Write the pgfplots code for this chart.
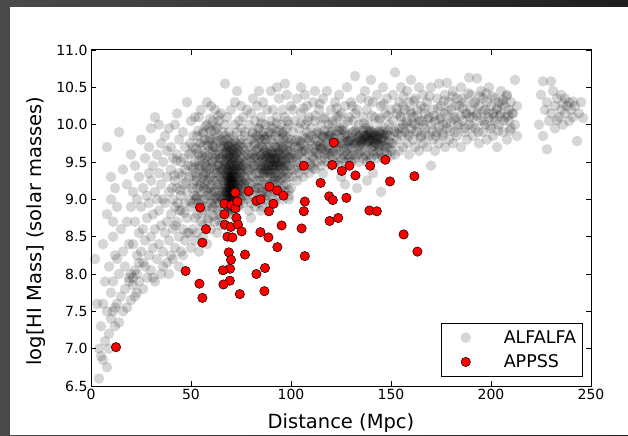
\documentclass[border=0pt]{standalone}
\usepackage{fontspec}
\setmainfont{DejaVu Sans}
\usepackage{pgfplots}
\pgfplotsset{compat=1.18}
\definecolor{frameL}{RGB}{74,74,74}
\definecolor{frameR}{RGB}{30,30,30}
\definecolor{appss}{RGB}{255,0,0}

\begin{document}
\begin{tikzpicture}
% slide frame behind the figure
\shade[left color=frameL, right color=frameR] (0pt,0pt) rectangle (628pt,435pt);
\fill[white] (10pt,0pt) rectangle (628pt,428pt);
\begin{axis}[
  at={(91pt,49pt)}, anchor=south west,
  scale only axis, width=500pt, height=336pt,
  xmin=0, xmax=250, ymin=6.5, ymax=11,
  xtick={0,50,...,250}, ytick={6.5,7.0,...,11.0},
  /pgf/number format/assume math mode=true,
  yticklabel style={/pgf/number format/.cd, fixed, fixed zerofill, precision=1},
  tick label style={font=\fontsize{14}{16}\selectfont},
  tick align=inside, xtick pos=both, ytick pos=both,
  major tick length=5pt,
  tick style={black, line width=0.7pt},
  axis line style={black, line width=1pt},
  xlabel={Distance (Mpc)},
  ylabel={log[HI Mass] (solar masses)},
  label style={font=\fontsize{19.5}{22}\selectfont},
  xlabel style={at={(axis description cs:0.5,-0.125)}, anchor=base},
  ylabel style={at={(axis description cs:-0.11,0.461)}, anchor=center},
  legend style={at={(0.983,0.028)}, anchor=south east, draw=black,
    line width=0.8pt, font=\fontsize{17.5}{20}\selectfont,
    row sep=6pt, inner xsep=4pt, inner ysep=5pt},
  legend cell align=left,
  legend image code/.code={
    \path[draw=none] (0pt,0pt) -- (56pt,0pt);
    \draw[#1] plot coordinates {(20pt,0pt)};},
]
% ALFALFA
\addplot[only marks, mark=*, mark size=5.3pt,
  mark options={draw opacity=0, fill=black, fill opacity=0.16}] coordinates {
(2,8.2)(3,7.6)(4,6.6)(5,6.9)(5,7.3)(6,6.85)(6,8.4)(7,7.1)(7,7.9)(8,6.75)(8,7.5)(8,8.8)(8,9.7)
(9,7.2)(9,8.1)(10,7.4)(10,7.75)(10,9.0)(10,9.3)(11,7.9)(11,8.5)(12,7.3)(12,8.25)(12,9.15)
(13,7.6)(13,8.9)(14,7.35)(14,8.0)(14,9.9)(15,7.7)(15,8.6)(16,7.5)(16,8.3)(16,9.4)(17,7.8)
(17,8.1)(18,7.55)(18,8.7)(18,9.2)(19,7.9)(19,8.4)(20,7.65)(20,8.0)(20,8.9)(20,9.6)(4,7.0)
(6,7.6)(9,7.0)(11,8.7)(13,8.2)(21,7.95)(21,7.85)(22,8.05)(19,7.95)(12,7.55)(11,7.5)(23,8.25)(24,8.15)
(21,8.4)(21,9.1)(22,7.7)(22,8.7)(22,9.45)(23,8.0)(23,9.0)(24,7.9)(24,8.55)(24,9.3)(25,8.3)
(25,8.9)(25,9.8)(26,7.8)(26,8.6)(26,9.15)(27,8.1)(27,8.45)(27,9.55)(28,7.95)(28,8.75)(28,9.05)
(29,8.25)(29,8.95)(29,9.7)(30,8.05)(30,8.5)(30,9.25)(30,9.95)(31,8.35)(31,8.8)(31,9.45)(32,7.9)
(32,8.6)(32,9.1)(32,10.1)(33,8.2)(33,9.0)(33,9.6)(34,8.4)(34,8.85)(34,9.35)(35,8.0)(35,8.65)
(35,9.2)(35,9.75)(36,8.3)(36,9.0)(36,9.5)(37,8.55)(37,8.95)(37,9.85)(38,8.15)(38,8.7)(38,9.3)
(38,9.65)(39,8.45)(39,9.1)(39,9.95)(40,8.25)(40,8.8)(40,9.4)(40,9.7)(41,8.6)(41,9.0)(41,9.55)
(42,8.35)(42,8.9)(42,9.25)(42,10.0)(43,8.7)(43,9.15)(43,9.6)(44,8.5)(44,9.35)(44,9.8)(45,8.3)
(45,8.85)(45,9.05)(45,9.5)(46,8.6)(46,9.2)(46,9.9)(47,8.45)(47,8.95)(47,9.4)(47,9.7)(48,8.75)
(48,9.1)(48,10.3)(49,8.55)(49,9.3)(49,9.6)(50,8.35)(50,8.9)(50,9.45)(50,10.05)(23,7.75)(26,8.15)
(31,7.95)(36,8.1)(41,8.2)(44,8.1)(29,9.35)(34,10.0)(39,8.0)(43,10.15)(46,8.25)
(40.5,9.15)(41.6,9.32)(42.7,9.52)(43.4,8.95)(44.6,9.12)(45.7,9.32)(46.3,9.55)(47.5,9.22)(48.6,9.45)
(49.4,8.98)(42.2,8.65)(44.1,8.85)(46.8,8.82)(48.2,8.55)(49.7,9.75)
(51,8.6)(51,9.2)(51,9.7)(52,8.45)(52,9.0)(52,9.5)(52,10.1)(53,8.8)(53,9.3)(53,9.85)(54,8.3)
(54,8.95)(54,9.4)(54,9.6)(55,8.7)(55,9.1)(55,9.75)(55,10.2)(56,8.5)(56,9.0)(56,9.35)(56,9.9)
(57,8.85)(57,9.2)(57,9.55)(58,8.4)(58,9.05)(58,9.45)(58,10.0)(59,8.75)(59,9.15)(59,9.65)(60,8.6)
(60,8.95)(60,9.3)(60,9.8)(60,10.25)(61,8.9)(61,9.25)(61,9.5)(61,10.05)(62,8.7)(62,9.1)(62,9.4)
(62,9.7)(63,8.55)(63,9.0)(63,9.35)(63,9.6)(63,9.95)(64,8.8)(64,9.2)(64,9.45)(64,9.85)(65,8.65)
(65,9.05)(65,9.3)(65,9.55)(65,10.15)(52,8.75)(53,9.05)(55,9.45)(57,9.0)(57,9.8)(59,9.4)(59,9.95)
(61,9.0)(62,9.55)(64,9.05)(64,9.6)(62,10.2)(58,10.3)(56,8.65)(54,10.1)(60,9.1)(61,9.7)(63,9.2)
(65,9.8)(58,8.9)(53,8.55)(51,8.95)(64,10.05)
(50.5,9.15)(51.3,9.42)(52.7,9.25)(53.4,9.62)(54.6,9.18)(55.2,8.92)(56.8,9.48)(57.3,9.35)(58.6,9.72)
(59.2,9.28)(60.4,9.52)(61.7,9.13)(62.3,9.83)(63.5,9.47)(64.2,9.32)(65.6,9.68)(66.3,9.52)(67.8,9.62)
(68.4,9.48)(69.2,9.82)(70.6,9.68)(71.4,9.58)(72.7,9.48)(73.3,9.22)(74.5,9.35)(75.7,9.12)(76.4,9.58)
(77.6,9.42)(66.8,9.15)(67.2,9.42)(73.8,9.05)(74.2,9.72)(75.2,9.48)(76.8,9.85)(77.3,9.18)(56.2,9.72)
(58.2,9.58)(60.8,9.65)(62.8,9.25)(64.8,9.72)(65.3,9.42)(63.1,8.85)(61.2,8.78)(59.7,9.05)(57.7,9.12)
(55.8,9.28)(54.1,9.52)(52.2,9.35)(60.1,9.92)(62.6,9.98)(58.9,9.78)(66.5,9.78)(71.9,9.78)(74.9,9.62)
(77.9,9.52)(72.6,9.62)(68.7,9.72)(65.9,8.88)(64.4,8.95)(73.7,8.92)
(50.2,9.62)(51.1,9.85)(51.8,9.05)(52.4,9.68)(53.1,9.15)(53.7,9.45)(54.3,9.75)(54.9,9.22)(55.4,9.58)
(55.9,9.88)(56.4,9.15)(56.9,9.62)(57.5,9.42)(58.1,9.25)(58.7,9.52)(59.3,9.82)(59.8,9.18)(60.3,9.42)
(60.9,9.72)(61.4,9.35)(61.9,9.6)(62.4,9.02)(62.9,9.45)(63.4,9.78)(63.9,9.12)(64.5,9.55)(65.1,9.38)
(57.2,9.98)(59.5,10.08)(61.6,9.92)(63.7,10.12)(53.6,9.92)(55.6,8.82)(58.4,8.72)(60.6,8.88)(62.1,8.95)
(64.1,8.72)(52.9,9.02)(50.8,9.32)(56.6,9.32)
(67,8.9)(67,9.05)(67,9.2)(67,9.35)(68,8.95)(68,9.1)(68,9.15)(68,9.25)(68,9.4)(69,8.85)(69,9.0)
(69,9.1)(69,9.2)(69,9.3)(69,9.45)(70,8.9)(70,9.0)(70,9.1)(70,9.15)(70,9.25)(70,9.35)(71,8.95)
(71,9.05)(71,9.2)(71,9.3)(71,9.5)(72,9.0)(72,9.1)(72,9.2)(72,9.4)(73,8.95)(73,9.15)(73,9.3)
(69,9.05)(70,9.2)(71,9.1)(68,9.0)(72,9.3)(70,9.45)(69,9.15)(70,9.05)(71,9.25)(68,9.3)(67,9.1)
(67.5,8.97)(68.3,9.08)(68.8,9.22)(69.4,8.93)(69.7,9.12)(70.3,9.27)(70.6,8.98)(71.2,9.16)(71.5,9.33)
(72.4,9.06)(69.1,9.38)(70.9,9.42)(68.6,9.31)(71.8,8.91)(69.9,9.02)(70.2,9.13)(69.5,9.24)(70.8,9.19)
(68.1,8.92)(72.1,9.24)(69.3,9.09)(70.5,9.36)(71.3,9.01)(68.9,9.17)(70.1,8.87)(69.6,9.29)(71.1,9.11)
(70.4,9.07)(69.8,9.18)(70.7,9.23)
(65.2,9.02)(65.8,9.18)(66.4,9.32)(66.9,9.45)(67.3,8.95)(67.6,9.28)(67.9,9.52)(68.2,9.12)(68.5,9.38)
(68.9,9.58)(69.2,8.98)(69.5,9.42)(69.8,9.52)(70.1,9.32)(70.4,9.48)(70.7,9.05)(71.0,9.38)(71.3,9.55)
(71.6,9.18)(71.9,9.45)(72.2,8.95)(72.5,9.35)(72.8,9.15)(73.1,9.52)(73.4,9.38)(73.7,9.08)(74.0,9.28)
(74.3,9.45)(74.6,9.18)(75.0,9.42)(75.4,9.25)(75.8,9.05)(76.2,9.38)(76.6,9.22)(67.1,9.62)(68.4,9.72)
(69.6,9.65)(70.9,9.72)(72.1,9.62)(73.2,9.68)(66.2,9.72)(74.8,9.75)(69.0,8.9)(70.0,8.95)(71.0,8.88)
(68.0,9.05)(72.0,9.12)(69.0,9.25)(70.0,9.3)(71.0,9.28)
(66,8.75)(66,9.1)(66,9.4)(66,9.6)(66,9.9)(67,9.5)(67,9.7)(67,10.0)(68,8.8)(68,9.55)(68,9.8)
(68,10.1)(69,9.6)(69,9.9)(70,8.8)(70,9.55)(70,9.75)(70,10.2)(71,9.65)(71,9.85)(72,8.85)(72,9.55)
(72,9.7)(72,10.0)(73,9.45)(73,9.6)(73,9.9)(74,8.9)(74,9.1)(74,9.25)(74,9.4)(74,9.65)(74,10.05)
(75,9.0)(75,9.2)(75,9.35)(75,9.55)(75,9.8)(76,8.95)(76,9.15)(76,9.45)(76,9.7)(76,10.1)(77,9.05)
(77,9.3)(77,9.5)(77,9.9)(78,9.0)(78,9.25)(78,9.6)(78,9.75)(66,9.25)(67,9.85)(69,9.7)(71,9.4)
(73,9.75)(75,9.95)(77,9.65)(66,9.0)(74,9.5)(76,9.3)(78,10.2)(72,10.3)(67,10.55)(73,10.45)(68,9.65)
(70,9.6)(75,10.25)
(84,9.35)(84,9.5)(85,9.4)(85,9.6)(86,9.3)(86,9.45)(86,9.55)(87,9.35)(87,9.5)(87,9.65)(88,9.4)
(88,9.55)(88,9.3)(89,9.45)(89,9.6)(89,9.35)(90,9.5)(90,9.4)(90,9.55)(90,9.65)(91,9.3)(91,9.45)
(91,9.6)(92,9.5)(92,9.4)(92,9.35)(93,9.55)(93,9.45)(93,9.7)(94,9.4)(94,9.5)(95,9.35)(95,9.6)
(96,9.45)(96,9.55)(85,9.25)(88,9.7)(91,9.75)(94,9.65)(89,9.2)(92,9.25)(87,9.2)(90,9.3)(86,9.7)(95,9.5)
(79,8.85)(79,9.1)(79,9.4)(79,9.7)(79,10.0)(80,8.95)(80,9.2)(80,9.5)(80,9.8)(80,10.15)(81,9.05)
(81,9.3)(81,9.6)(81,9.9)(82,8.9)(82,9.15)(82,9.45)(82,9.75)(82,10.05)(83,9.0)(83,9.25)(83,9.55)
(83,9.85)(83,10.25)(84,8.95)(84,9.15)(84,9.7)(84,9.95)(85,9.05)(85,9.8)(85,10.1)(86,8.9)(86,9.1)
(86,9.9)(86,10.3)(87,9.0)(87,9.8)(87,10.0)(88,9.1)(88,9.85)(88,10.2)(89,8.95)(89,9.05)(89,9.9)
(90,9.15)(90,9.8)(90,10.05)(90,10.45)(91,9.0)(91,9.95)(91,10.2)(92,9.1)(92,9.7)(92,9.85)(93,9.2)
(93,9.9)(93,10.1)(94,9.05)(94,9.25)(94,9.8)(94,10.35)(95,9.15)(95,9.75)(95,10.0)(96,9.0)(96,9.3)
(96,9.7)(96,9.9)(96,10.2)(97,9.1)(97,9.4)(97,9.6)(97,9.85)(97,10.1)(98,9.2)(98,9.45)(98,9.65)
(98,9.95)(98,10.4)(99,9.05)(99,9.3)(99,9.55)(99,9.75)(99,10.0)(100,9.15)(100,9.4)(100,9.6)
(100,9.8)(100,10.25)(81,10.35)(84,10.45)(93,10.5)(97,10.55)(80,8.75)(85,8.85)(92,8.95)(99,9.0)
(78.5,9.38)(79.6,9.55)(80.3,9.32)(81.4,9.72)(82.2,9.58)(83.6,9.42)(84.3,9.82)(85.2,9.52)(86.4,9.62)
(87.3,9.42)(88.6,9.48)(89.2,9.72)(90.4,9.35)(91.6,9.52)(92.3,9.62)(93.4,9.32)(94.6,9.58)(95.2,9.42)
(96.6,9.62)(97.3,9.52)(98.4,9.35)(99.6,9.65)(79.2,9.22)(81.8,9.12)(83.2,9.15)(85.6,9.12)(87.8,9.08)
(90.8,9.22)(93.8,9.12)(96.2,9.18)(98.8,9.12)(80.8,9.88)(83.8,9.95)(86.8,9.82)(89.8,9.98)(92.8,10.02)
(95.8,9.88)(98.2,9.82)(82.6,9.65)(85.9,9.35)(88.2,9.62)(91.2,9.42)(94.2,9.72)(97.8,9.72)(87.1,9.58)
(89.4,9.52)(91.9,9.55)(86.2,9.42)(88.9,9.38)(93.1,9.48)(84.9,9.45)(90.2,9.62)(92.6,9.45)(95.6,9.52)
(99.2,9.45)(81.2,9.45)(79.9,9.62)(97.1,9.28)(94.9,9.28)(100.4,9.52)
(80.6,9.42)(81.6,9.55)(82.4,9.35)(83.4,9.68)(84.6,9.58)(85.4,9.72)(86.6,9.38)(87.6,9.58)(88.4,9.45)
(89.6,9.55)(90.6,9.45)(91.4,9.62)(92.4,9.55)(93.6,9.62)(94.4,9.45)(95.4,9.68)(96.4,9.38)(97.6,9.48)
(98.6,9.58)(99.4,9.72)(81.9,9.82)(84.1,9.25)(86.1,9.85)(88.1,9.18)(90.1,9.88)(92.1,9.28)(94.1,9.92)
(96.1,9.82)(98.1,10.05)(85.1,10.02)
(110.5,9.72)(111.8,9.81)(112.3,9.63)(113.6,9.77)(114.2,9.88)(115.4,9.69)(116.7,9.61)(117.1,9.83)
(118.5,9.92)(119.3,9.68)(120.8,9.76)(121.2,9.64)(122.6,9.87)(123.4,9.71)(124.9,9.82)(125.3,9.93)
(126.1,9.74)(127.7,9.66)(128.2,9.86)(129.5,9.79)(130.4,9.69)(131.6,9.91)(132.3,9.74)(133.8,9.84)
(134.1,9.72)(135.5,9.81)(136.2,9.9)(137.9,9.76)(138.4,9.86)(139.2,9.79)(140.7,9.71)(141.3,9.89)
(142.8,9.8)(143.5,9.84)(144.1,9.74)(145.6,9.91)(146.3,9.79)(147.8,9.7)(148.2,9.86)(136.8,9.8)
(138.1,9.73)(140.2,9.85)(142.4,9.92)(134.6,9.86)(132.9,9.8)(144.7,9.87)(146.9,9.95)(137.3,9.96)
(139.8,9.69)(141.9,9.76)(143.1,9.81)(130.8,9.9)(126.7,9.85)(122.1,9.75)(118.2,9.8)(114.9,9.75)
(128.6,9.72)(124.3,9.96)(120.2,9.9)(116.1,9.84)(135.1,9.75)(139.5,9.88)(141.1,9.82)(137.6,9.84)
(133.2,9.77)(145.2,9.78)
(102.2,9.78)(104.2,9.72)(106.2,9.65)(108.8,9.82)(110.2,9.85)(112.8,9.72)(114.8,9.68)(116.8,9.92)
(118.8,9.85)(120.9,9.82)(122.9,9.92)(124.7,9.75)(126.9,9.92)(128.1,9.78)(130.2,9.78)(132.4,9.92)
(134.4,9.8)(136.7,9.85)(138.3,9.92)(140.5,9.8)(142.6,9.75)(144.9,9.82)(146.8,9.85)(148.6,9.92)
(138.9,9.82)(141.8,9.86)(143.9,9.9)(136.1,9.78)(140.1,9.9)(145.4,9.72)
(101.5,9.62)(102.8,9.55)(103.6,9.68)(104.4,9.78)(105.2,9.62)(106.6,9.72)(107.3,9.82)(108.5,9.68)
(109.2,9.78)(110.8,9.58)(111.5,9.68)(112.7,9.88)(113.2,9.62)(114.6,9.72)(115.8,9.85)(116.4,9.72)
(117.6,9.66)(118.8,9.72)(119.6,9.86)(120.4,9.62)(121.7,9.82)(122.4,9.68)(123.8,9.92)(124.5,9.65)
(125.8,9.78)(126.4,9.68)(127.3,9.88)(128.9,9.78)(129.2,9.68)(130.1,9.82)(131.3,9.75)(132.6,9.88)
(133.4,9.68)(134.9,9.78)(135.8,9.92)(136.5,9.72)(137.1,9.85)(138.7,9.78)(139.4,9.92)(140.9,9.78)
(141.6,9.72)(142.1,9.85)(143.8,9.72)(144.4,9.92)(145.9,9.82)(146.6,9.72)(147.2,9.88)(148.8,9.78)
(149.4,9.85)(150.2,9.75)(104.8,10.02)(108.2,10.05)(112.1,10.12)(116.3,10.08)(120.6,10.02)
(124.1,10.12)(128.4,10.05)(132.1,10.15)(136.4,10.02)(140.4,10.12)(144.6,10.08)(148.4,10.12)
(106.2,10.22)(114.4,10.28)(122.8,10.22)(130.6,10.25)(138.8,10.32)(146.2,10.28)(103.2,9.42)
(109.8,9.48)(115.2,9.52)(121.8,9.48)(129.8,9.58)(137.6,9.58)(143.3,9.62)(149.8,9.58)(134.2,9.62)
(126.2,9.55)(118.4,9.62)(111.1,9.42)
(101,9.3)(101,9.55)(101,9.9)(101,10.2)(102,9.4)(102,9.7)(102,10.05)(103,9.25)(103,9.5)(103,9.8)
(103,10.35)(104,9.35)(104,9.6)(104,9.95)(105,9.45)(105,9.75)(105,10.15)(106,9.3)(106,9.55)
(106,9.85)(107,9.4)(107,9.65)(107,10.0)(107,10.4)(108,9.5)(108,9.9)(108,10.25)(109,9.35)(109,9.6)
(109,10.1)(110,9.45)(110,9.95)(111,9.55)(111,10.3)(112,9.4)(112,10.05)(113,9.5)(113,9.9)(114,9.6)
(114,10.2)(115,9.45)(115,10.0)(116,9.35)(116,10.35)(117,9.55)(117,10.1)(118,9.5)(118,10.45)
(119,9.6)(119,10.0)(120,9.45)(120,10.2)(121,9.55)(121,10.05)(122,9.5)(122,10.3)(123,9.6)(123,10.1)
(124,9.45)(124,10.4)(125,9.55)(125,10.15)(126,9.6)(126,10.0)(127,9.5)(127,10.25)(128,9.6)(128,10.5)
(129,9.55)(129,10.1)(130,9.5)(130,10.3)(131,9.6)(131,10.05)(132,9.55)(132,10.65)(133,9.6)(133,10.2)
(134,9.5)(134,10.0)(135,9.65)(135,10.35)(136,9.55)(136,10.1)(137,9.6)(137,10.45)(138,9.5)(138,10.2)
(139,9.6)(139,10.0)(140,9.55)(140,10.6)(141,9.65)(141,10.3)(142,9.6)(142,10.1)(143,9.55)(143,10.4)
(144,9.65)(144,10.05)(145,9.6)(145,10.25)(146,9.55)(146,10.5)(147,9.65)(147,10.15)(148,9.6)
(148,10.35)(149,9.7)(149,10.0)(150,9.65)(150,10.2)(127,9.2)(133,9.15)(138,9.25)(145,9.1)(125,9.3)
(141,9.35)(105,10.5)(112,10.45)
(151,9.75)(151,10.05)(151,10.4)(152,9.6)(152,9.9)(152,10.7)(153,9.8)(153,10.15)(154,9.65)(154,9.95)
(154,10.3)(155,9.85)(155,10.1)(155,10.5)(156,9.7)(156,10.0)(156,10.25)(157,9.9)(157,10.2)(158,9.75)
(158,10.05)(158,10.45)(159,9.6)(159,9.85)(159,10.3)(160,9.95)(160,10.15)(160,10.6)(161,9.8)
(161,10.1)(162,9.7)(162,10.0)(162,10.35)(163,9.9)(163,10.2)(164,9.65)(164,10.05)(164,10.5)
(165,9.85)(165,10.25)(166,9.75)(166,10.0)(166,10.4)(167,9.95)(167,10.15)(168,9.7)(168,10.3)
(169,9.85)(169,10.1)(170,9.45)(170,10.0)(170,10.5)(171,9.8)(171,10.2)(172,9.65)(172,10.05)
(173,9.9)(173,10.35)(174,9.75)(174,9.97)(174,10.55)(175,10.1)(175,10.25)(176,9.85)(176,10.0)
(177,9.7)(177,10.15)(177,10.4)(178,9.95)(178,10.56)(179,9.8)(179,10.3)(180,10.05)(180,10.2)
(181,9.75)(181,10.45)(182,9.9)(182,10.1)(183,9.85)(183,10.35)(184,10.0)(184,10.25)(185,9.7)
(185,10.5)(186,10.22)(186,10.05)(187,9.9)(187,10.3)(188,10.15)(188,9.8)(189,10.0)(189,10.63)
(190,10.2)(190,10.4)(191,9.85)(191,10.1)(192,10.3)(192,9.95)(193,10.62)(193,10.15)(194,9.75)
(194,10.25)(195,10.05)(195,10.45)(196,9.9)(196,10.35)(197,10.2)(197,10.0)(198,9.8)(198,10.3)
(199,10.1)(199,10.5)(200,9.95)(200,10.25)(201,10.15)(201,9.85)(202,10.35)(202,10.05)(203,9.7)
(203,10.2)(204,10.3)(204,10.0)(205,10.15)(205,10.45)(206,10.33)(206,9.9)(207,10.1)(207,10.25)
(208,9.8)(208,10.4)(209,10.05)(209,10.2)(210,9.95)(210,10.3)(211,10.15)(212,10.6)(212,10.0)
(213,9.85)(213,10.25)
(151.6,9.92)(152.8,10.22)(153.4,9.88)(154.7,10.12)(155.6,9.96)(156.3,10.38)(157.8,10.02)(158.4,9.88)
(159.6,10.18)(160.7,10.02)(161.4,10.32)(162.6,9.92)(163.2,10.12)(164.8,9.82)(165.4,10.05)(166.7,10.22)
(167.3,9.88)(168.6,10.08)(169.2,10.38)(170.8,9.92)(171.5,10.12)(172.3,9.85)(173.6,10.22)(174.2,10.08)
(175.7,9.88)(176.4,10.32)(177.6,10.02)(178.3,10.18)(179.6,9.92)(180.7,10.38)(181.3,10.08)(182.6,10.25)
(183.2,9.98)(184.6,10.12)(185.4,10.35)(186.8,9.95)(187.4,10.15)(188.6,10.42)(189.3,10.1)(190.7,9.98)
(191.4,10.28)(192.8,10.12)(193.6,9.9)(194.4,10.38)(195.8,10.18)(196.4,10.05)(197.6,10.42)(198.4,10.15)
(199.6,9.98)(200.7,10.38)(201.4,10.1)(202.8,10.22)(203.6,9.92)(204.4,10.12)(205.6,10.28)(206.4,10.05)
(207.8,10.38)(208.6,10.12)(209.4,9.92)(210.6,10.15)
(224,10.0)(225,10.4)(226,10.58)(226,9.85)(227,10.2)(228,9.67)(228,10.3)(229,10.05)(230,10.58)
(230,10.15)(231,10.45)(232,9.95)(232,10.25)(233,10.06)(233,10.35)(234,10.1)(235,10.2)(235,10.4)
(236,10.28)(236,10.0)(237,10.15)(237,10.35)(238,10.25)(239,10.3)(239,10.05)(240,10.2)(241,10.31)
(241,10.1)(242,10.25)(243,9.78)(244,10.15)(246,10.09)(245,10.3)
};
% APPSS
\addplot[only marks, mark=*, mark size=4.7pt,
  mark options={draw=black, line width=0.5pt, fill=appss}] coordinates {
(121.4,9.76)(106.4,9.45)(120.6,9.46)(129.2,9.45)(125.4,9.38)(132.2,9.32)(139.6,9.45)
(147.2,9.53)(149.5,9.24)(161.7,9.31)(114.8,9.22)(78.8,9.11)(89.3,9.17)(93.0,9.12)(96.2,9.05)
(72.2,9.09)(82.7,8.98)(84.8,9.00)(91.2,8.94)(89.0,8.84)(106.9,8.97)(106.4,8.84)(119.1,9.04)
(120.9,8.99)(127.7,9.02)(139.2,8.85)(142.9,8.84)(119.3,8.71)(123.6,8.75)(105.3,8.61)(95.3,8.65)
(84.7,8.56)(88.7,8.49)(93.2,8.36)(106.9,8.24)(156.3,8.53)(163.2,8.30)(54.5,8.89)(57.5,8.60)
(55.7,8.42)(47.3,8.04)(54.2,7.87)(55.7,7.68)(66.7,8.94)(70.2,8.92)(72.2,8.88)(73.2,8.97)
(66.7,8.80)(72.7,8.75)(66.9,8.66)(69.9,8.63)(73.5,8.66)(75.3,8.57)(68.2,8.50)(70.7,8.49)
(68.9,8.29)(70.0,8.19)(77.0,8.26)(69.5,8.07)(66.0,8.05)(69.4,7.91)(66.2,7.86)(74.4,7.73)
(82.7,8.00)(87.0,8.08)(86.7,7.77)(12.5,7.02)
};
\legend{ALFALFA, APPSS}
\end{axis}
\end{tikzpicture}
\end{document}
